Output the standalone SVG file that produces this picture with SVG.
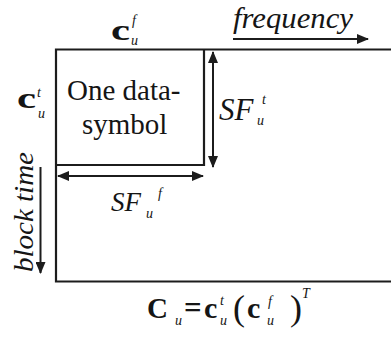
<svg xmlns="http://www.w3.org/2000/svg" width="391" height="337" viewBox="0 0 391 337">
<style>
.ln{fill:none;stroke:#1c1c1c;stroke-width:2.2}
.ar{fill:none;stroke:#1c1c1c;stroke-width:2}
.t{font-family:'Liberation Serif','Times New Roman',serif;fill:#151515}
.i{font-style:italic}
.b{font-weight:bold}
.s{font-family:'Liberation Serif','Times New Roman',serif;font-style:italic;font-size:14px;fill:#151515}
</style>
<defs>
<marker id="ah" markerUnits="userSpaceOnUse" markerWidth="12" markerHeight="10" refX="11" refY="5" orient="auto-start-reverse">
<path d="M0,0 L12,5 L0,10 Z" fill="#1c1c1c"/>
</marker>
</defs>
<rect width="391" height="337" fill="#ffffff"/>
<g id="matrix">
<path class="ln" d="M391,49.5 H56 V281.5 H391"/>
</g>
<g id="data-symbol">
<path class="ln" d="M204,49.5 V165 H56"/>
<text class="t" x="67" y="100" font-size="29">One data-</text>
<text class="t" x="82" y="134" font-size="29">symbol</text>
</g>
<g id="label-cf">
<text class="t b" x="111" y="40" font-size="30" textLength="19" lengthAdjust="spacingAndGlyphs">c</text>
<text class="s" x="132" y="25">f</text>
<text class="s" x="131" y="45">u</text>
</g>
<g id="label-ct">
<text class="t b" x="17" y="108" font-size="30" textLength="19" lengthAdjust="spacingAndGlyphs">c</text>
<text class="s" x="37" y="97">t</text>
<text class="s" x="38" y="118">u</text>
</g>
<g id="label-frequency">
<text class="t i" x="233" y="28" font-size="29" textLength="120" lengthAdjust="spacingAndGlyphs">frequency</text>
</g>
<g id="label-blocktime">
<text class="t i" transform="translate(33,272) rotate(-90)" x="0" y="0" font-size="28" textLength="120" lengthAdjust="spacingAndGlyphs">block time</text>
</g>
<g id="label-SFt">
<text class="t i" x="219" y="120" font-size="31">SF</text>
<text class="s" x="262" y="104">t</text>
<text class="s" x="257" y="125">u</text>
</g>
<g id="label-SFf">
<text class="t i" x="111" y="211" font-size="27">SF</text>
<text class="s" x="158" y="198">f</text>
<text class="s" x="146" y="218">u</text>
</g>
<g id="formula">
<text class="t b" x="147" y="318" font-size="29">C</text>
<text class="s" x="175" y="325" font-size="13">u</text>
<text class="t b" x="184" y="318" font-size="31">=</text>
<text class="t b" x="204" y="318" font-size="30">c</text>
<text class="s" x="220" y="305" font-size="13">t</text>
<text class="s" x="220" y="325" font-size="13">u</text>
<text class="t" x="233" y="320" font-size="36">(</text>
<text class="t b" x="247" y="318" font-size="30">c</text>
<text class="s" x="268" y="306" font-size="13">f</text>
<text class="s" x="267" y="325" font-size="13">u</text>
<text class="t" x="290" y="320" font-size="36">)</text>
<text class="s" x="302" y="298">T</text>
</g>
<g id="connectors">
<line class="ar" x1="233" y1="39" x2="368" y2="39" marker-end="url(#ah)"/>
<line class="ar" x1="213" y1="52" x2="213" y2="167" marker-start="url(#ah)" marker-end="url(#ah)"/>
<line class="ar" x1="58" y1="176" x2="203" y2="176" marker-start="url(#ah)" marker-end="url(#ah)"/>
<line class="ar" stroke-width="1.6" x1="40.5" y1="167" x2="40.5" y2="273" marker-end="url(#ah)"/>
</g>
</svg>
